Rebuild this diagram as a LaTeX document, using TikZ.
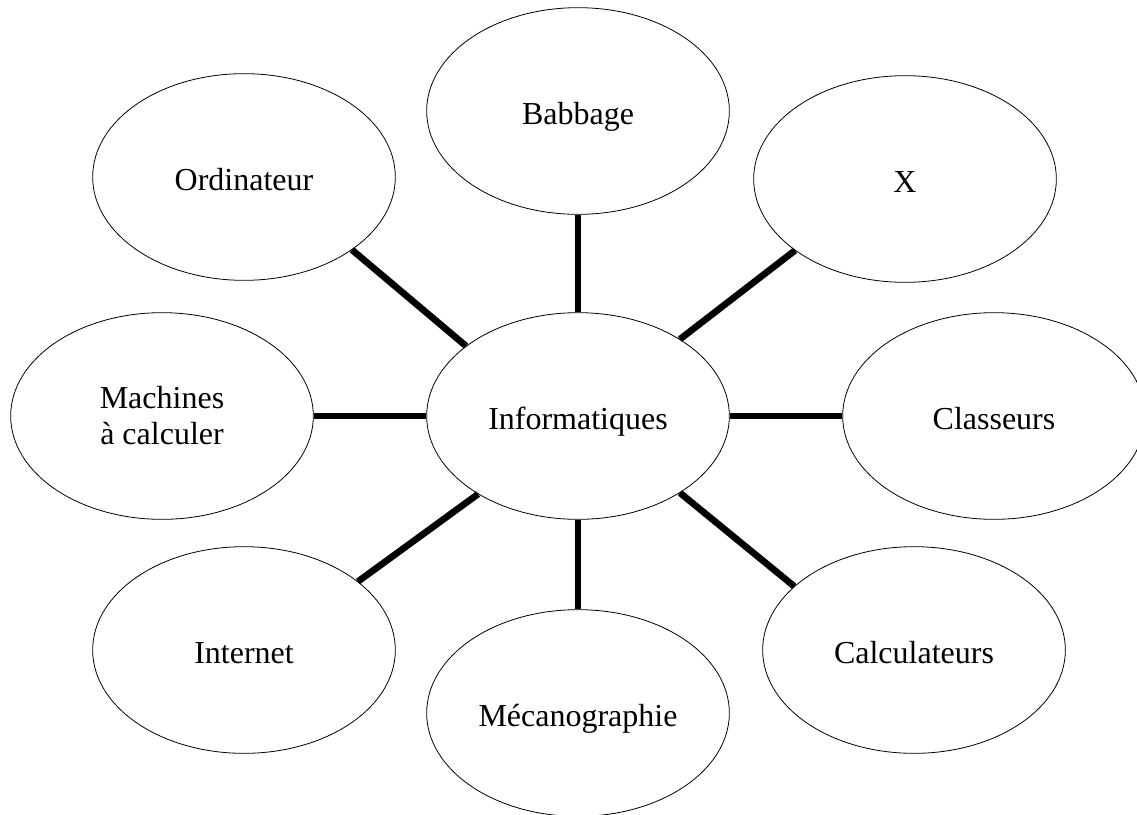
\documentclass[tikz,border=0pt]{standalone}
\usepackage{fontspec}
\setmainfont{Liberation Serif}
\usetikzlibrary{shapes.geometric}
\begin{document}
\begin{tikzpicture}[x=0.75pt,y=-0.75pt,
  bulle/.style={draw, ellipse, line width=0.6pt, minimum width=227pt, minimum height=155pt,
    inner sep=0pt, align=center, text height=19.5pt, text depth=0pt,
    font=\fontsize{24}{27}\selectfont}]
\useasboundingbox (0,0) rectangle (1137,814);
\node[bulle] (inf) at (578,416) {Informatiques};
\node[bulle] (bab) at (578,111) {Babbage};
\node[bulle] (ord) at (244,177) {Ordinateur};
\node[bulle] (x) at (905,179) {X};
\node[bulle, text height=, text depth=] (mach) at (162,416) {Machines\\à calculer};
\node[bulle] (cla) at (994,416) {Classeurs};
\node[bulle] (int) at (244,650) {Internet};
\node[bulle] (mec) at (578,713) {Mécanographie};
\node[bulle] (calc) at (914,650) {Calculateurs};
\foreach \a/\b in {90/bab.south, 148/ord.-34, 37/x.213, 180/mach.east, 0/cla.west,
  218/int.31, 270/mec.north, -37/calc.152} {\draw[line width=5pt] (inf.\a)--(\b);}
\end{tikzpicture}
\end{document}
